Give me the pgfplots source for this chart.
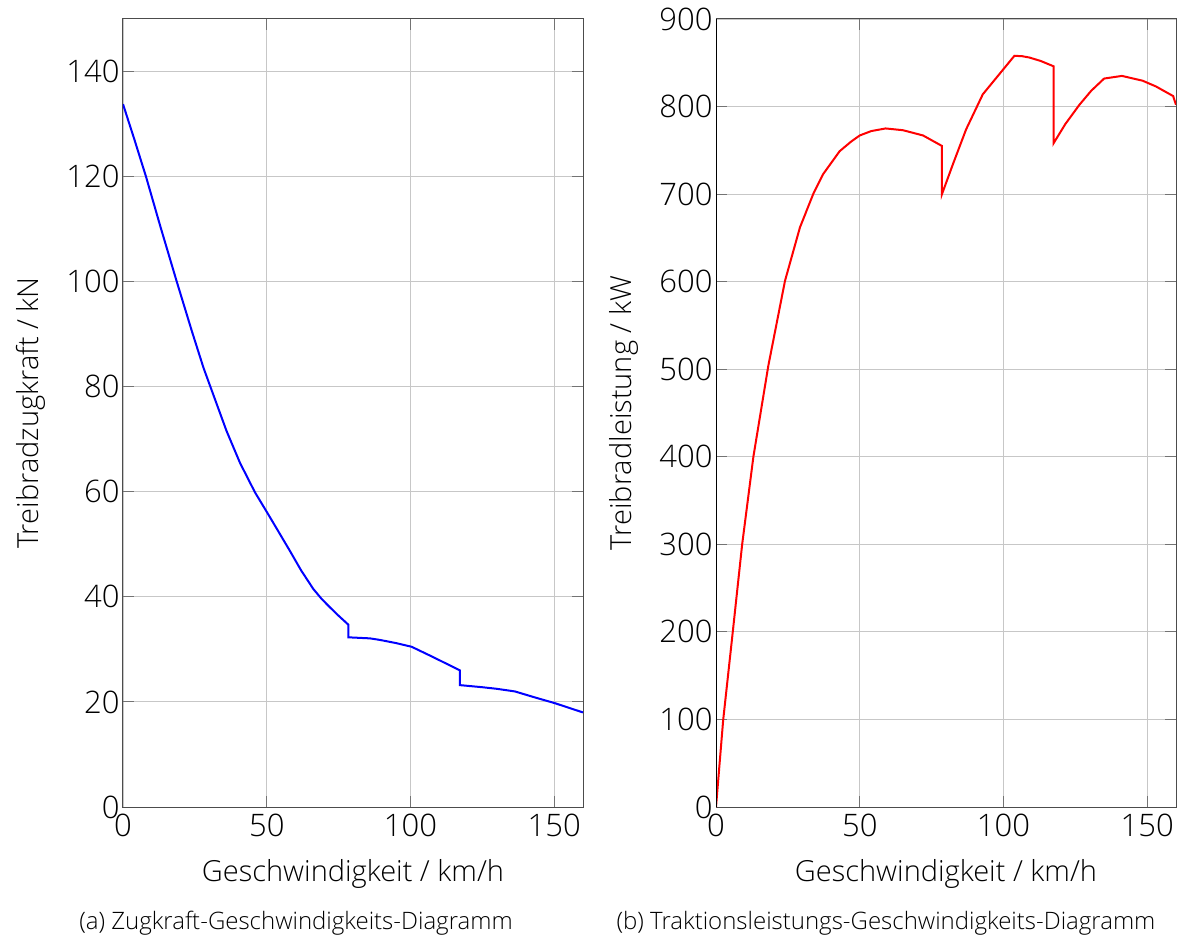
\documentclass[border=0pt]{standalone}
\usepackage{fontspec}
\setmainfont{Open Sans}[UprightFont={* Light}]
\usepackage{pgfplots}
\pgfplotsset{compat=1.18}

\pgfplotsset{
  lokstyle/.style={
    scale only axis,
    width=460pt, height=788pt,
    anchor=south west,
    xmin=0, xmax=160,
    xtick={0,50,100,150},
    grid=major,
    major grid style={line width=0.9pt, draw=black!22},
    axis line style={line width=1pt, draw=black!70},
    tick align=inside,
    major tick length=11pt,
    tick style={line width=1pt, draw=black!55},
    tick label style={font=\fontsize{31}{36}\selectfont},
    label style={font=\fontsize{29}{34}\selectfont},
    /pgf/number format/assume math mode=true,
    xlabel={Geschwindigkeit / km/h},
    xticklabel style={yshift=-3pt},
    xlabel style={yshift=-16pt},
    ylabel style={yshift=14pt},
  }
}

\begin{document}
\begin{tikzpicture}
\useasboundingbox (0pt,0pt) rectangle (1186pt,938pt);

% Zugkraft über Geschwindigkeit
\begin{axis}[lokstyle,
  at={(123pt,131pt)},
  ymin=0, ymax=150,
  ytick={0,20,40,60,80,100,120,140},
  ylabel={Treibradzugkraft / kN},
]
\addplot[blue, line width=2pt] coordinates {
  (0,133.8) (4,127.0) (8,120.0) (13,110.5) (18.7,100.0) (24,90.5) (28,83.6)
  (32,77.6) (36,71.6) (40.7,65.5) (45.9,59.9) (50.2,56.0) (54,52.5)
  (58,48.8) (62,45.0) (66.2,41.5) (69.1,39.6) (72,38.0) (75,36.4)
  (78.4,34.7) (78.4,32.3) (85.9,32.1) (89.4,31.8) (95,31.2) (100.4,30.5)
  (108,28.5) (117.2,26.0) (117.2,23.2) (125,22.8) (130,22.5) (136.3,22.0)
  (143,20.9) (150.3,19.75) (155,18.9) (160,18.0)
};
\end{axis}

% Traktionsleistung über Geschwindigkeit
\begin{axis}[lokstyle,
  at={(716pt,131pt)},
  ymin=0, ymax=900,
  ytick={0,100,200,300,400,500,600,700,800,900},
  ylabel={Treibradleistung / kW},
]
\addplot[red, line width=2pt] coordinates {
  (0,0) (2.5,99.5) (5.8,199) (9.1,300) (13,400) (18.2,504)
  (24,601) (29.2,662) (33.8,700) (37.3,723) (43,749) (47,760) (50,767)
  (54,772) (59,775) (65,773) (72,767) (78.6,755) (78.6,700) (82.5,735)
  (87,774) (92.8,814) (103.8,858) (106.5,857.5) (109,856) (113,852)
  (117.4,846) (117.4,758) (121.5,780) (126.4,802) (130.5,818) (135,832)
  (141.2,835) (148.4,829.5) (153,823) (159,812) (160,802)
};
\draw[black, line width=1.1pt] (rel axis cs:0,0) -- (rel axis cs:0,1);
\end{axis}

\node[font=\fontsize{24}{29}\selectfont] at (296pt,15pt) {(a) Zugkraft-Geschwindigkeits-Diagramm};
\node[font=\fontsize{24}{29}\selectfont] at (886pt,15pt) {(b) Traktionsleistungs-Geschwindigkeits-Diagramm};
\end{tikzpicture}
\end{document}
